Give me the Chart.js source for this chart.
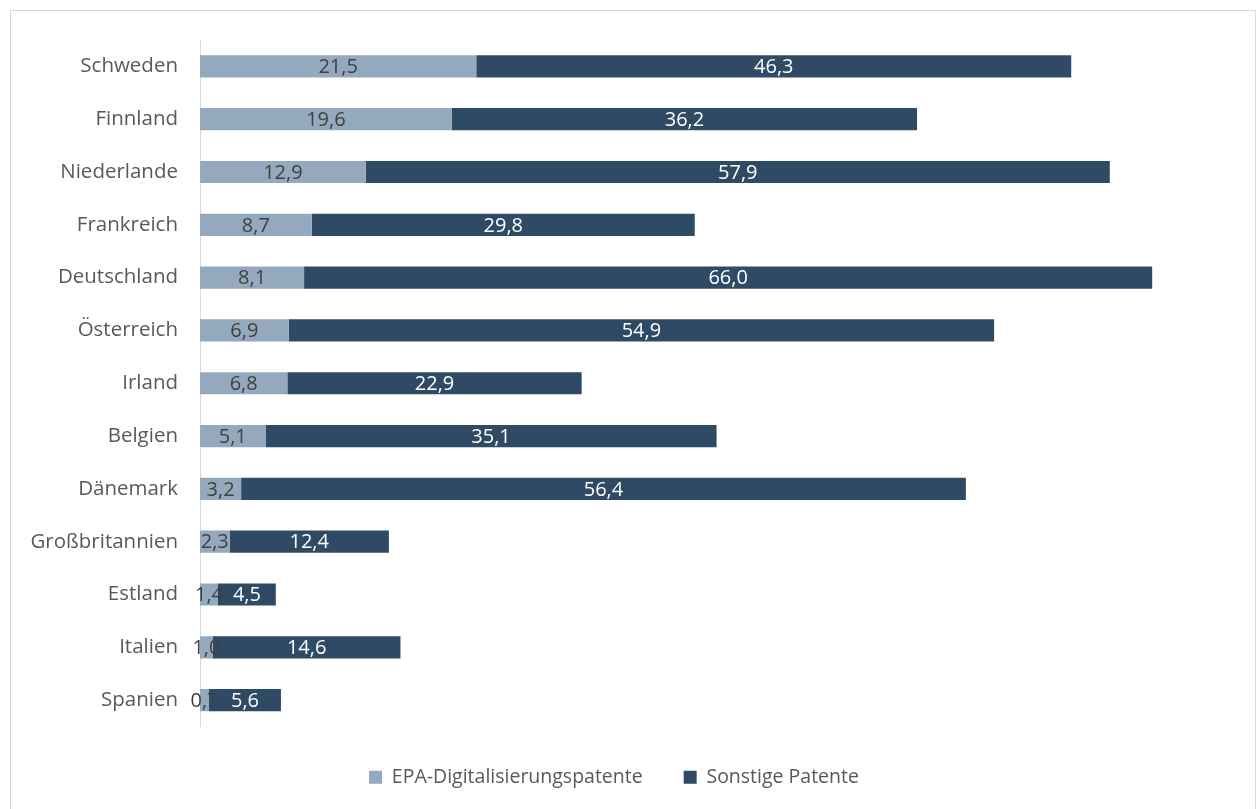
<!DOCTYPE html>
<html>
<head>
<meta charset="utf-8">
<script src="https://cdn.jsdelivr.net/npm/chart.js@4/dist/chart.umd.min.js"></script>
<style>
    body { margin: 0; background: #fff; }
    #wrap { position: relative; width: 1257px; height: 809px; }
    #frame { position: absolute; left: 10px; top: 10px; width: 1246px; height: 820px; border: 1px solid #d9d9d9; box-sizing: border-box; }
    canvas { position: absolute; left: 0; top: 0; }
</style>
</head>
<body>
<div id="wrap">
    <div id="frame"></div>
    <canvas id="patentChart" width="1257" height="809"></canvas>
</div>
<script>
const countries = ['Schweden', 'Finnland', 'Niederlande', 'Frankreich', 'Deutschland', 'Österreich',
    'Irland', 'Belgien', 'Dänemark', 'Großbritannien', 'Estland', 'Italien', 'Spanien'];
const digitalPatents = [21.5, 19.6, 12.9, 8.7, 8.1, 6.9, 6.8, 5.1, 3.2, 2.3, 1.4, 1.0, 0.7];
const otherPatents = [46.3, 36.2, 57.9, 29.8, 66.0, 54.9, 22.9, 35.1, 56.4, 12.4, 4.5, 14.6, 5.6];

const FONT = "'Open Sans', sans-serif";

// draws the value in the middle of each bar (like Excel data labels)
const barLabels = {
    id: 'barLabels',
    afterDatasetsDraw(chart) {
        const ctx = chart.ctx;
        ctx.save();
        ctx.font = `20px ${FONT}`;
        ctx.textAlign = 'center';
        ctx.textBaseline = 'middle';
        chart.data.datasets.forEach((ds, i) => {
            const meta = chart.getDatasetMeta(i);
            ctx.fillStyle = i === 0 ? '#404040' : '#ffffff';
            meta.data.forEach((bar, j) => {
                const x = (bar.x + bar.base) / 2;
                const txt = ds.data[j].toFixed(1).replace('.', ',');
                ctx.fillText(txt, x, bar.y + 1);
            });
        });
        ctx.restore();
    }
};

new Chart(document.getElementById('patentChart'), {
    type: 'bar',
    data: {
        labels: countries,
        datasets: [
            {
                label: 'EPA-Digitalisierungspatente',
                data: digitalPatents,
                backgroundColor: '#94a9bd',
                barPercentage: 0.42,
                categoryPercentage: 1
            },
            {
                label: 'Sonstige Patente',
                data: otherPatents,
                backgroundColor: '#2f4a65',
                barPercentage: 0.42,
                categoryPercentage: 1
            }
        ]
    },
    options: {
        indexAxis: 'y',
        responsive: false,
        animation: false,
        layout: { padding: { top: 40, right: 29, left: 0, bottom: 12 } },
        plugins: {
            tooltip: { enabled: false },
            legend: {
                position: 'bottom',
                labels: {
                    font: { family: FONT, size: 19.5 },
                    color: '#595959',
                    boxWidth: 13,
                    boxHeight: 13,
                    padding: 41
                }
            }
        },
        scales: {
            x: {
                stacked: true,
                min: 0,
                max: 80,
                display: false
            },
            y: {
                stacked: true,
                grid: { display: false, drawTicks: false },
                border: { display: true, color: '#d9d9d9', width: 1 },
                ticks: {
                    font: { family: FONT, size: 20.5 },
                    color: '#595959',
                    padding: 22
                },
                afterFit(scale) { scale.width = 200; }
            }
        }
    },
    plugins: [barLabels]
});
</script>
</body>
</html>
